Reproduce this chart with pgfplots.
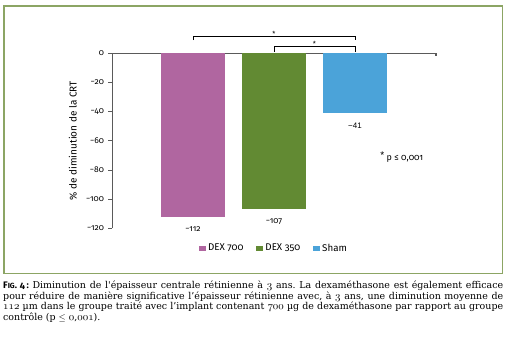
\documentclass[border=0pt]{standalone}
\usepackage{fontspec}
\usepackage{amssymb}
\usepackage{pgfplots}
\pgfplotsset{compat=1.18}
\newfontfamily\fira{Fira Sans}[Numbers=OldStyle]
\newfontfamily\libsans{Liberation Sans}
\newfontfamily\capserif{DejaVu Serif}
\newcommand\osn[1]{{\fontsize{11}{10}\usefont{OML}{cmm}{m}{it}#1}}
\definecolor{pinkbar}{RGB}{176,102,160}
\definecolor{greenbar}{RGB}{98,138,51}
\definecolor{bluebar}{RGB}{75,163,217}
\definecolor{boxgreen}{RGB}{140,165,100}
\definecolor{axgray}{RGB}{90,90,90}
\begin{document}
\begin{tikzpicture}[font=\fira\fontsize{8}{9.6}\selectfont]
\path (0,0) rectangle (507bp,-342bp);
\draw[boxgreen, line width=1.3bp] (4bp,-6bp) rectangle (502.5bp,-273.5bp);
\begin{axis}[
  at={(112bp,-228.3bp)}, anchor=south west,
  scale only axis, width=324bp, height=175bp,
  xmin=0, xmax=4, ymin=-120, ymax=0,
  axis x line*=top, axis y line*=left,
  x axis line style={axgray, line width=1.1bp},
  y axis line style={axgray, line width=0.8bp},
  xtick=\empty,
  ytick={-120,-100,-80,-60,-40,-20,0},
  yticklabels={−120,−100,−80,−60,−40,−20,0},
  tick align=outside, major tick length=4bp,
  ytick style={axgray, line width=0.8bp},
  yticklabel style={font=\fira\fontsize{8.5}{10}\selectfont, xshift=-0.5bp},
  ylabel={\% de diminution de la CRT},
  every axis y label/.style={at={(axis description cs:-0.1204,0.5)}, rotate=90, anchor=center, font=\fira\fontsize{10}{12}\selectfont},
  clip=false,
  ybar, bar width=0.8, bar shift=0pt,
  point meta=explicit symbolic,
  nodes near coords,
  every node near coord/.append style={font=\fira\fontsize{8.5}{10}\selectfont, anchor=north, yshift=-6bp},
  legend columns=3,
  legend style={at={(0.5,-0.065)}, anchor=north, draw=none, fill=none,
    font=\fira\fontsize{9.8}{11}\selectfont,
    /tikz/every even column/.append style={column sep=11bp}},
  legend image code/.code={\fill[#1] (0bp,-2.5bp) rectangle (7bp,2.5bp);},
]
\addplot[fill=pinkbar, draw=none] coordinates {(1,-112) [−112]};
\addlegendentry{DEX 700}
\addplot[fill=greenbar, draw=none] coordinates {(2,-107) [−107]};
\addlegendentry{DEX 350}
\addplot[fill=bluebar, draw=none, every node near coord/.append style={font=\libsans\fontsize{8}{9}\selectfont}] coordinates {(3,-41) [−41]};
\addlegendentry{Sham}
\draw[axgray, line width=1.1bp] (axis cs:4,0) -- (axis cs:4,-2);
\draw[black, line width=0.7bp] (axis cs:1,9.1) -- (axis cs:1,11.7) -- (axis cs:3,11.7) -- (axis cs:3,9.1);
\draw[black, line width=0.7bp] (axis cs:2,1.1) -- (axis cs:2,4.5) -- (axis cs:3,4.5) -- (axis cs:3,1.1);
\node[inner sep=0pt, font=\fira\fontsize{7}{8}\selectfont] at (axis cs:2,13.2) {*};
\node[inner sep=0pt, font=\fira\fontsize{7}{8}\selectfont] at (axis cs:2.5,6.3) {*};
\node[anchor=west, inner sep=0pt, font=\fira\fontsize{9}{10}\selectfont] at (axis cs:3.31,-71.1) {\raisebox{1.5bp}{*} p ≤ 0,001};
\end{axis}
\node[anchor=north west, inner sep=0pt, text width=500bp, align=justify,
  font=\capserif\fontsize{9.5}{10.6}\selectfont\frenchspacing] at (3bp,-281bp)
{{\fira\bfseries F{\fontsize{7.5}{8}\selectfont IG}. 4\,:} Diminution de l'épaisseur centrale rétinienne à \osn{3} ans. La dexaméthasone est également efficace\linebreak
pour réduire de manière significative l’épaisseur rétinienne avec, à \osn{3} ans, une diminution moyenne de\linebreak
\osn{112} µm dans le groupe traité avec l’implant contenant \osn{700} µg de dexaméthasone par rapport au groupe\linebreak
contrôle (p $\le$ \osn{0},\osn{001}).};
\end{tikzpicture}
\end{document}
